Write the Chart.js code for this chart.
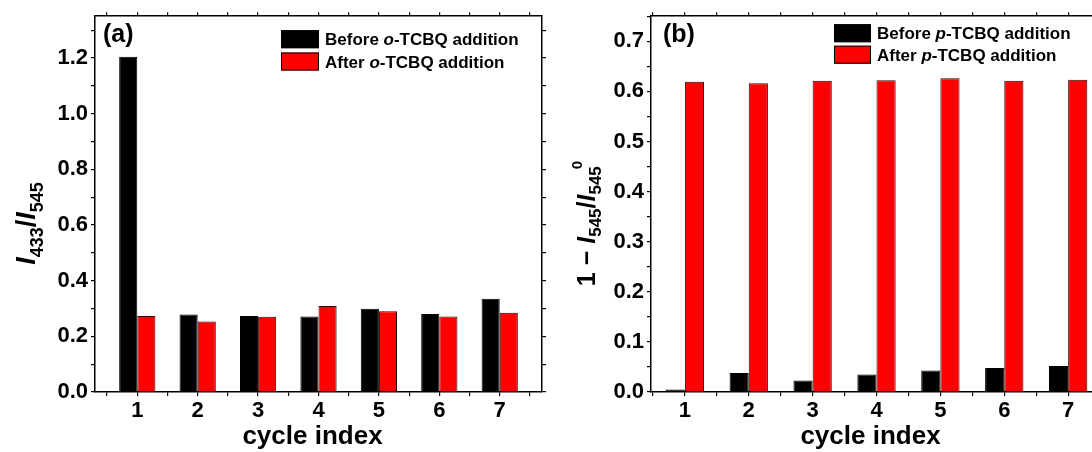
<!DOCTYPE html>
<html>
<head>
<meta charset="utf-8">
<script src="https://cdn.jsdelivr.net/npm/chart.js@4.4.1/dist/chart.umd.min.js"></script>
<style>
  html, body { margin: 0; padding: 0; background: #fff; overflow: hidden; }
  body { width: 1092px; height: 452px; position: relative; }
  canvas { position: absolute; top: 0; }
  #chartA { left: 0; }
  #chartB { left: 560px; }
</style>
</head>
<body>
<canvas id="chartA" width="560" height="452"></canvas>
<canvas id="chartB" width="560" height="452"></canvas>
<script>
// cycle numbers on the x axis
const cycles = [1, 2, 3, 4, 5, 6, 7];

// (a) ratio I433/I545
const beforeOTCBQ = [1.204, 0.278, 0.273, 0.271, 0.299, 0.280, 0.335];
const afterOTCBQ  = [0.273, 0.253, 0.270, 0.309, 0.290, 0.271, 0.285];

// (b) quenching 1 - I545/I545^0
const beforePTCBQ = [0.005, 0.038, 0.023, 0.035, 0.043, 0.048, 0.052];
const afterPTCBQ  = [0.619, 0.616, 0.621, 0.622, 0.626, 0.621, 0.623];

// labelled ticks
const yLabelsA = [0.0, 0.2, 0.4, 0.6, 0.8, 1.0, 1.2];
const yLabelsB = [0.0, 0.1, 0.2, 0.3, 0.4, 0.5, 0.6, 0.7];

const FAMILY = '"Liberation Sans", Arial, sans-serif';
Chart.defaults.font.family = FAMILY;
Chart.defaults.font.weight = 'bold';
Chart.defaults.color = '#000';

function pick(list, decimals) {
  return v => {
    const hit = list.find(t => Math.abs(t - v) < 1e-6);
    return hit === undefined ? '' : hit.toFixed(decimals);
  };
}

function richWidth(ctx, runs) {
  let w = 0;
  runs.forEach(r => { ctx.font = r.font; w += ctx.measureText(r.text).width + (r.dx || 0); });
  return w;
}

function drawRich(ctx, runs, x, y) {
  let cx = x;
  runs.forEach(r => {
    ctx.font = r.font;
    cx += r.dx || 0;
    ctx.fillText(r.text, cx, y + (r.dy || 0));
    cx += ctx.measureText(r.text).width;
  });
}

const B17 = 'bold 17px ' + FAMILY;
const BI17 = 'italic bold 17px ' + FAMILY;

// panel letter, legend and axis titles drawn on top of the bars
function decorations(o) {
  return {
    id: 'decorations',
    afterDraw(chart) {
      const { ctx, chartArea: a } = chart;
      ctx.save();
      ctx.fillStyle = '#000';
      ctx.textBaseline = 'alphabetic';
      ctx.textAlign = 'left';

      ctx.font = 'bold 25px ' + FAMILY;
      ctx.fillText(o.panel, a.left + o.panelDx, a.top + 26);

      o.legend.forEach((item, i) => {
        const x = a.left + o.legendDx;
        const y = a.top + o.legendTop + i * o.legendGap;
        ctx.fillStyle = item.color;
        ctx.fillRect(x, y, o.swatchW, 18);
        ctx.strokeStyle = '#000';
        ctx.lineWidth = 1;
        ctx.strokeRect(x + 0.5, y + 0.5, o.swatchW - 1, 17);
        ctx.fillStyle = '#000';
        drawRich(ctx, item.runs, x + o.swatchW + 6, y + 15);
      });

      ctx.font = 'bold 26px ' + FAMILY;
      ctx.textAlign = 'center';
      ctx.fillText('cycle index', (a.left + a.right) / 2 - 6, 444);
      ctx.textAlign = 'left';

      ctx.translate(35, 223.5);
      ctx.rotate(-Math.PI / 2);
      drawRich(ctx, o.yTitle, -richWidth(ctx, o.yTitle) / 2, 0);
      ctx.restore();
    }
  };
}

function frameScales(xMin, xMax, yMax, yStep, yLabels, leftWidth) {
  const grid = { drawOnChartArea: false, drawTicks: true, tickLength: 4, color: '#000', lineWidth: 1.2, offset: false };
  const border = { display: true, color: '#000', width: 1.5 };
  return {
    xBar: {
      type: 'linear', display: false, offset: false, min: xMin, max: xMax,
      grid: { offset: false },
      ticks: { stepSize: 1, includeBounds: false }
    },
    x: {
      type: 'linear', position: 'bottom', offset: false, min: xMin, max: xMax,
      grid, border,
      ticks: {
        stepSize: 0.5, includeBounds: false, autoSkip: false, maxRotation: 0,
        padding: 2, font: { size: 22, weight: 'bold' }, callback: pick(cycles, 0)
      },
      afterFit: s => { s.height = 60; }
    },
    x2: {
      type: 'linear', position: 'top', offset: false, min: xMin, max: xMax,
      grid, border,
      ticks: { display: false, stepSize: 0.5, includeBounds: false },
      afterFit: s => { s.height = 14; }
    },
    y: {
      type: 'linear', position: 'left', min: 0, max: yMax,
      grid, border,
      ticks: {
        stepSize: yStep, includeBounds: false, autoSkip: false,
        padding: 3, font: { size: 22, weight: 'bold' }, callback: pick(yLabels, 1)
      },
      afterFit: s => { s.width = leftWidth; }
    },
    y2: {
      type: 'linear', position: 'right', min: 0, max: yMax,
      grid, border,
      ticks: { display: false, stepSize: yStep, includeBounds: false },
      afterFit: s => { s.width = 18; }
    }
  };
}

function barSet(label, values, color, edge) {
  return {
    label,
    data: cycles.map((c, i) => ({ x: c, y: values[i] })),
    backgroundColor: color,
    borderColor: edge,
    borderWidth: 1,
    xAxisID: 'xBar',
    yAxisID: 'y',
    categoryPercentage: 0.6,
    barPercentage: 1.0
  };
}

const common = {
  responsive: false,
  animation: false,
  layout: { padding: 0 },
  plugins: { legend: { display: false }, tooltip: { enabled: false } }
};

new Chart(document.getElementById('chartA'), {
  type: 'bar',
  data: {
    datasets: [
      barSet('Before o-TCBQ addition', beforeOTCBQ, '#000000', '#000000'),
      barSet('After o-TCBQ addition', afterOTCBQ, '#ff0000', '#300000')
    ]
  },
  options: { ...common, scales: frameScales(0.3, 7.7, 1.35, 0.1, yLabelsA, 95) },
  plugins: [decorations({
    panel: '(a)', panelDx: 8,
    legendDx: 186, legendTop: 14, legendGap: 22.3, swatchW: 38,
    legend: [
      { color: '#000000', runs: [{ text: 'Before ', font: B17 }, { text: 'o', font: BI17 }, { text: '-TCBQ addition', font: B17 }] },
      { color: '#ff0000', runs: [{ text: 'After ', font: B17 }, { text: 'o', font: BI17 }, { text: '-TCBQ addition', font: B17 }] }
    ],
    yTitle: [
      { text: 'I', font: 'italic bold 27px ' + FAMILY },
      { text: '433', font: 'bold 18px ' + FAMILY, dy: 8 },
      { text: '/', font: 'bold 27px ' + FAMILY },
      { text: 'I', font: 'italic bold 27px ' + FAMILY },
      { text: '545', font: 'bold 18px ' + FAMILY, dy: 8 }
    ]
  })]
});

new Chart(document.getElementById('chartB'), {
  type: 'bar',
  data: {
    datasets: [
      barSet('Before p-TCBQ addition', beforePTCBQ, '#000000', '#000000'),
      barSet('After p-TCBQ addition', afterPTCBQ, '#ff0000', '#300000')
    ]
  },
  options: { ...common, scales: frameScales(0.47, 7.53, 0.75, 0.05, yLabelsB, 91) },
  plugins: [decorations({
    panel: '(b)', panelDx: 12,
    legendDx: 183, legendTop: 8, legendGap: 21.5, swatchW: 37,
    legend: [
      { color: '#000000', runs: [{ text: 'Before ', font: B17 }, { text: 'p', font: BI17 }, { text: '-TCBQ addition', font: B17 }] },
      { color: '#ff0000', runs: [{ text: 'After ', font: B17 }, { text: 'p', font: BI17 }, { text: '-TCBQ addition', font: B17 }] }
    ],
    yTitle: [
      { text: '1 \u2212 ', font: 'bold 25px ' + FAMILY },
      { text: 'I', font: 'italic bold 25px ' + FAMILY },
      { text: '545', font: 'bold 17px ' + FAMILY, dy: 6 },
      { text: '/', font: 'bold 25px ' + FAMILY },
      { text: 'I', font: 'italic bold 25px ' + FAMILY },
      { text: '545', font: 'bold 17px ' + FAMILY, dy: 6 },
      { text: '0', font: 'bold 15px ' + FAMILY, dy: -13, dx: -3 }
    ]
  })]
});
</script>
</body>
</html>
